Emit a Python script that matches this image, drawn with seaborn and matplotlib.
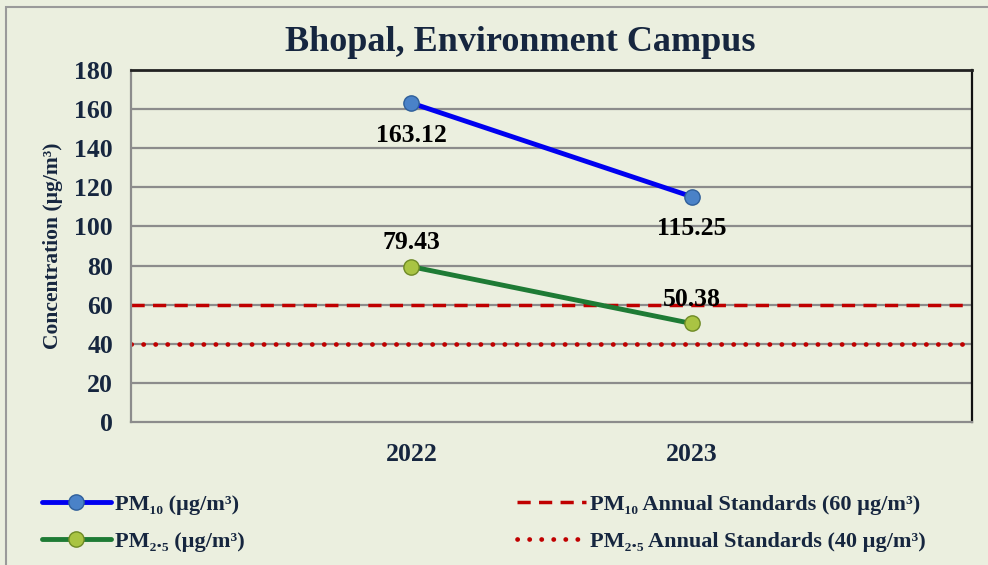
import numpy as np
import pandas as pd
import matplotlib
matplotlib.use("Agg")
import matplotlib.pyplot as plt
import seaborn as sns
from matplotlib.lines import Line2D
from matplotlib.patches import Rectangle

# data
years = ["2022", "2023"]
pm10 = [163.12, 115.25]
pm25 = [79.43, 50.38]
std_pm10 = 60
std_pm25 = 40
y_ticks = [0, 20, 40, 60, 80, 100, 120, 140, 160, 180]

BG = "#EBEFDF"
NAVY = "#16263F"
DASH = (0, (3.8, 2.4))
DOT = (0, (0.05, 2.5))

sns.set_theme(style="white")
plt.rcParams["font.family"] = ["Liberation Serif", "DejaVu Serif"]
plt.rcParams["font.weight"] = "bold"

df = pd.DataFrame({
    "Year": years * 2,
    "Value": pm10 + pm25,
    "Series": ["PM10"] * 2 + ["PM2.5"] * 2,
})

fig = plt.figure(figsize=(9.88, 5.65), dpi=100, facecolor=BG)
ax = fig.add_axes([0.1326, 0.2531, 0.8512, 0.623])
ax.set_facecolor(BG)

# outer chart border (left/top visible in the reference)
fig.patches.append(Rectangle((6 / 988, -0.05), 1.1, 1 - 7 / 565 + 0.05,
                             transform=fig.transFigure, fill=False,
                             edgecolor="#9A9A9A", linewidth=1.5))

# grid lines
for t in y_ticks[1:-1]:
    ax.axhline(t, color="#8C8C8C", linewidth=1.6, zorder=1)

# standards
ax.axhline(std_pm10, color="#C00000", linewidth=2.5, linestyle=DASH, zorder=2)
ax.axhline(std_pm25, color="#C00000", linewidth=3.4, linestyle=DOT,
           dash_capstyle="round", zorder=2)

sns.lineplot(data=df[df["Series"] == "PM10"], x="Year", y="Value", ax=ax,
             color="#0000F0", linewidth=3.5, marker="o", markersize=11,
             markerfacecolor="#4A82C8", markeredgecolor="#2F5F9A", markeredgewidth=1,
             zorder=4, legend=False)
sns.lineplot(data=df[df["Series"] == "PM2.5"], x="Year", y="Value", ax=ax,
             color="#1E7B35", linewidth=3.5, marker="o", markersize=11,
             markerfacecolor="#A9C443", markeredgecolor="#6E8A26", markeredgewidth=1,
             zorder=4, legend=False)

# data labels
for i, v in enumerate(pm10):
    ax.annotate(f"{v:.2f}", (i, v), xytext=(0, -15), textcoords="offset points",
                ha="center", va="top", fontsize=18.5, fontweight="bold", color="black")
for i, v in enumerate(pm25):
    ax.annotate(f"{v:.2f}", (i, v), xytext=(0, 9), textcoords="offset points",
                ha="center", va="bottom", fontsize=18.5, fontweight="bold", color="black")

ax.set_xlim(-1, 2)
ax.set_ylim(0, 180)
ax.set_yticks(y_ticks)
ax.set_xticks([0, 1])
ax.set_xticklabels(years)
ax.tick_params(axis="both", length=0, labelsize=18.5, labelcolor=NAVY)
ax.tick_params(axis="y", pad=13)
ax.tick_params(axis="x", pad=15)
for lab in ax.get_xticklabels() + ax.get_yticklabels():
    lab.set_fontweight("bold")
ax.set_xlabel("")
ax.set_ylabel("Concentration (µg/m³)", fontsize=15.5, fontweight="bold", color=NAVY, labelpad=8)

ax.spines["left"].set_color("#8C8C8C")
ax.spines["bottom"].set_color("#8C8C8C")
ax.spines["left"].set_linewidth(1.6)
ax.spines["bottom"].set_linewidth(1.6)
ax.spines["top"].set_color("#222222")
ax.spines["right"].set_color("#111111")
ax.spines["top"].set_linewidth(2)
ax.spines["right"].set_linewidth(1.6)

fig.text(0.527, 0.925, "Bhopal, Environment Campus", ha="center", va="center",
         fontsize=26, fontweight="bold", color=NAVY)

# legends
h1 = [Line2D([], [], color="#0000F0", linewidth=3.5, marker="o", markersize=11,
             markerfacecolor="#4A82C8", markeredgecolor="#2F5F9A"),
      Line2D([], [], color="#1E7B35", linewidth=3.5, marker="o", markersize=11,
             markerfacecolor="#A9C443", markeredgecolor="#6E8A26")]
l1 = ["PM₁₀ (µg/m³)", "PM₂.₅ (µg/m³)"]
h2 = [Line2D([], [], color="#C00000", linewidth=2.5, linestyle=DASH),
      Line2D([], [], color="#C00000", linewidth=3.4, linestyle=DOT,
             dash_capstyle="round")]
l2 = ["PM₁₀ Annual Standards (60 µg/m³)", "PM₂.₅ Annual Standards (40 µg/m³)"]

leg_kw = dict(frameon=False, handlelength=3.1, handletextpad=0.2, labelspacing=0.75,
              prop={"family": ["Liberation Serif", "DejaVu Serif"], "weight": "bold", "size": 16},
              labelcolor=NAVY)
fig.legend(h1, l1, loc="center left", bbox_to_anchor=(0.022, 0.074), **leg_kw)
fig.legend(h2, l2, loc="center left", bbox_to_anchor=(0.503, 0.074), **leg_kw)

fig.savefig("out.png", dpi=100, facecolor=BG)
